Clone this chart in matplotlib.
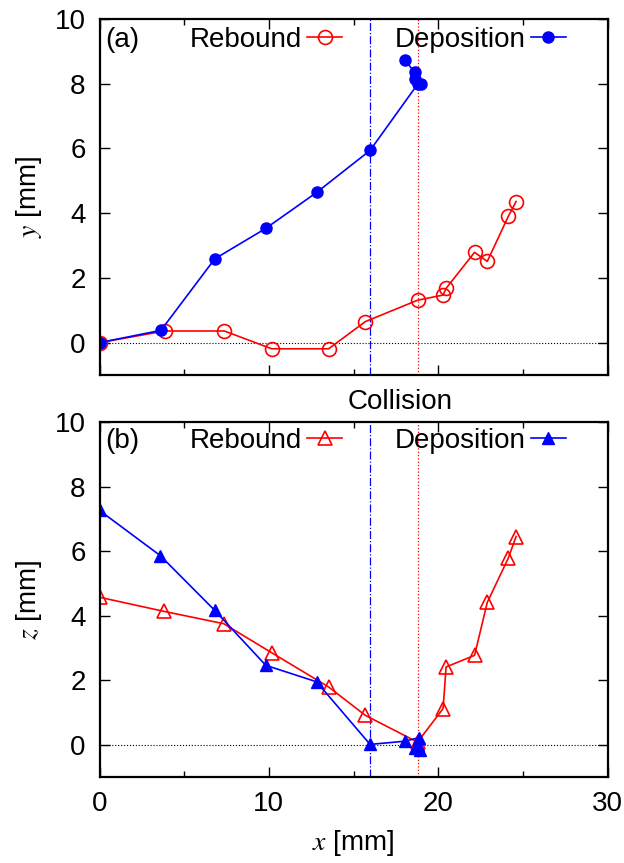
import matplotlib
matplotlib.use("Agg")
import matplotlib.pyplot as plt
import numpy as np

plt.rcParams['font.family'] = ['Liberation Sans', 'DejaVu Sans']
plt.rcParams['mathtext.fontset'] = 'stix'

# panel (a): x-y trajectories
reb_x = [0, 3.87, 7.37, 10.17, 13.53, 15.7, 18.78, 20.29, 20.47, 22.15, 22.9, 24.14, 24.6]
reb_y = [0, 0.36, 0.36, -0.19, -0.19, 0.65, 1.31, 1.47, 1.68, 2.79, 2.51, 3.9, 4.36]
dep_x = [0, 3.63, 6.81, 9.82, 12.82, 15.98, 18.78, 18.99, 18.61, 18.61, 18.06]
dep_y = [0, 0.38, 2.59, 3.53, 4.64, 5.94, 7.98, 7.98, 8.15, 8.35, 8.72]

# panel (b): x-z trajectories
reb_zx = [0, 3.83, 7.34, 10.17, 13.53, 15.7, 18.78, 20.29, 20.47, 22.15, 22.9, 24.14, 24.6]
reb_z = [4.57, 4.13, 3.75, 2.85, 1.79, 0.91, 0.08, 1.12, 2.41, 2.77, 4.41, 5.78, 6.45]
dep_zx = [0, 3.59, 6.81, 9.82, 12.82, 15.98, 18.06, 18.85, 18.95, 18.65, 18.8]
dep_z = [7.26, 5.86, 4.16, 2.46, 1.95, 0.01, 0.11, 0.22, -0.15, -0.09, 0.0]

x_blue = 16.0
x_red = 18.8

fig = plt.figure(figsize=(6.24, 8.63), dpi=100)
ax1 = fig.add_axes([99.5/624, 1 - 375/863, 508/624, 356/863])
ax2 = fig.add_axes([99.5/624, 1 - 777/863, 508/624, 355/863])

def style(ax):
    ax.set_xlim(0, 30)
    ax.set_ylim(-1, 10)
    ax.set_xticks([0, 10, 20, 30])
    ax.set_xticks([5, 15, 25], minor=True)
    ax.set_yticks([0, 2, 4, 6, 8, 10])
    ax.tick_params(which='both', direction='in', top=True, right=True,
                   labelsize=20, pad=10, width=1)
    ax.tick_params(which='major', length=7)
    ax.tick_params(which='minor', length=4)
    for s in ax.spines.values():
        s.set_linewidth(1.6)
    ax.axhline(0, color='black', ls=':', lw=0.8)
    ax.axvline(x_blue, color='blue', ls='-.', lw=0.9)
    ax.axvline(x_red, color='red', ls=':', lw=0.9)

def key(ax, y):
    ax.legend(loc='center right', bbox_to_anchor=(0.918, y), ncol=2, frameon=False,
              markerfirst=False, fontsize=20, handlelength=1.25, columnspacing=1.9,
              handletextpad=0.2, borderpad=0, borderaxespad=0)

style(ax1)
ax1.plot(reb_x, reb_y, color='red', lw=1.2, marker='o', ms=10, mfc='none',
         mec='red', mew=1.2, label='Rebound')
ax1.plot(dep_x, dep_y, color='blue', lw=1.2, marker='o', ms=8, label='Deposition')
ax1.tick_params(labelbottom=False)
ax1.set_ylabel(r'$y$ [mm]', fontsize=20, labelpad=8)
ax1.text(0.012, 0.941, '(a)', transform=ax1.transAxes, fontsize=20, va='center')
key(ax1, 0.941)

style(ax2)
ax2.plot(reb_zx, reb_z, color='red', lw=1.2, marker='^', ms=10, mfc='none',
         mec='red', mew=1.2, label='Rebound')
ax2.plot(dep_zx, dep_z, color='blue', lw=1.2, marker='^', ms=9, label='Deposition')
ax2.set_xlabel(r'$x$ [mm]', fontsize=20, labelpad=8)
ax2.set_ylabel(r'$z$ [mm]', fontsize=20, labelpad=8)
ax2.text(0.012, 0.946, '(b)', transform=ax2.transAxes, fontsize=20, va='center')
key(ax2, 0.946)

fig.text(400/624, 1 - 402/863, 'Collision', fontsize=20, ha='center', va='center')

fig.savefig('out.png', dpi=100)
